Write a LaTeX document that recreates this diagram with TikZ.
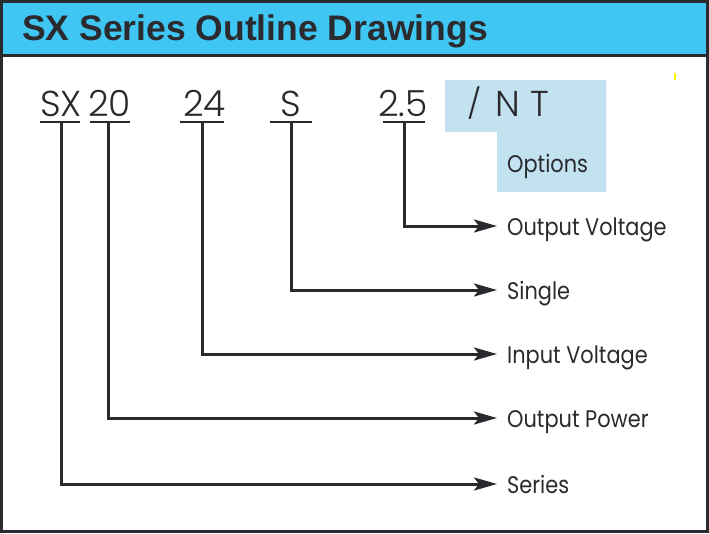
\documentclass[tikz,border=0pt]{standalone}
\usepackage{fontspec}
\setmainfont{Poppins}[UprightFont=* Light]
\newfontfamily\lblfont{Poppins}[FakeStretch=0.87]
\newfontfamily\titlefont{Liberation Sans}
\usetikzlibrary{arrows.meta}
\definecolor{frame}{HTML}{2B2A2E}
\definecolor{headcyan}{HTML}{40C6F2}
\definecolor{optblue}{HTML}{C3E2F0}
\definecolor{ink}{HTML}{2A2A2E}
\tikzset{
  codetxt/.style={anchor=base west, inner sep=0pt, font=\fontsize{36}{40}\selectfont, text=ink},
  lbl/.style={anchor=west, inner xsep=10pt, inner ysep=0pt, text height=18pt, text depth=0pt, font=\lblfont\fontsize{24}{28}\selectfont, text=ink},
  uline/.style={line width=2.5pt, draw=ink},
  conn/.style={line width=3pt, draw=ink, -{Stealth[length=23pt,width=13pt,inset=5pt]}},
}
\begin{document}
\begin{tikzpicture}[x=1pt,y=-1pt]
\useasboundingbox (0,0) rectangle (709,533);
% header
\fill[headcyan] (3,3) rectangle (706,54);
\draw[frame, line width=3pt] (1.5,55.5) -- (707,55.5);
\draw[frame, line width=3pt] (1.5,1.5) rectangle (707,531.5);
\node[anchor=base west, inner sep=0pt, font=\titlefont\bfseries\fontsize{35.5}{38}\selectfont, text=frame] (title) at (22,40) {SX Series Outline Drawings};
% options boxes
\fill[optblue] (445,80) -- (606,80) -- (606,192) -- (497,192) -- (497,132) -- (445,132) -- cycle;
% code
\node[codetxt] (c1) at (40,116) {SX};
\node[codetxt] (c2) at (88,116) {20};
\node[codetxt] (c3) at (183,116) {24};
\node[codetxt] (c4) at (280,116) {S};
\node[codetxt] (c5) at (378,116) {2.5};
\node[codetxt] (c6) at (467,116) {\raisebox{0.04em}{\scalebox{0.9}[0.82]{/}}\hspace{0.38em}N\hspace{0.3em}T};
\node[anchor=base west, inner sep=0pt, font=\lblfont\fontsize{24}{28}\selectfont, text=ink] (opt) at (507,172) {Options};
% underlines
\draw[uline] (40,122) -- (80,122);
\draw[uline] (90,122) -- (130,122);
\draw[uline] (180,122) -- (224,122);
\draw[uline] (270,122) -- (312,122);
\draw[uline] (383,122) -- (425,122);
\coordinate (u1) at (61.5,122);
\coordinate (u2) at (108,122);
\coordinate (u3) at (202.5,122);
\coordinate (u4) at (291.5,122);
\coordinate (u5) at (404,122);
% labels
\node[lbl] (l5) at (497,226) {Output Voltage};
\node[lbl] (l4) at (497,290) {Single};
\node[lbl] (l3) at (497,354) {Input Voltage};
\node[lbl] (l2) at (497,418) {Output Power};
\node[lbl] (l1) at (497,484) {Series};
% connectors
\draw[conn] (u5) |- (l5.west);
\draw[conn] (u4) |- (l4.west);
\draw[conn] (u3) |- (l3.west);
\draw[conn] (u2) |- (l2.west);
\draw[conn] (u1) |- (l1.west);
% stray mark
\draw[yellow, line width=2pt] (675,73) -- (675,80);
\end{tikzpicture}
\end{document}
